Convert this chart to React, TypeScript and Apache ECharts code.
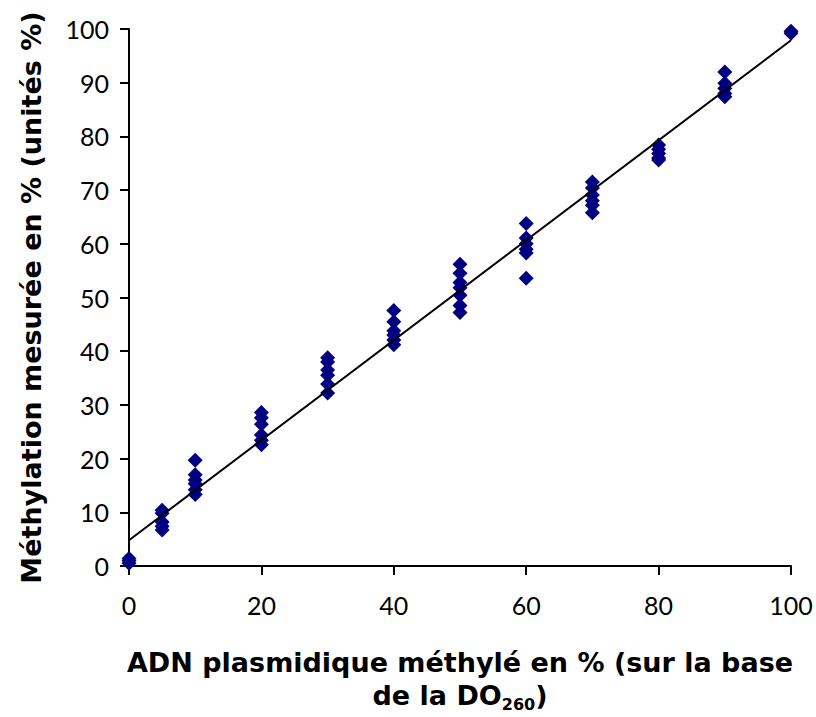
import React, { useEffect, useRef } from "react";
import * as echarts from "echarts";

const xLevels = [0, 5, 10, 20, 30, 40, 50, 60, 70, 80, 90, 100];
const measured: number[][] = [
  [0.5, 1.0, 1.4],
  [10.4, 9.8, 8.2, 7.4, 6.7],
  [19.7, 17.0, 16.0, 15.3, 14.2, 13.3],
  [28.6, 27.6, 26.4, 24.4, 23.4, 22.6],
  [38.8, 38.0, 36.5, 35.5, 33.9, 32.2],
  [47.6, 45.5, 43.8, 43.0, 42.1, 41.2],
  [56.2, 54.5, 52.8, 51.8, 50.4, 48.5, 47.2],
  [63.8, 61.1, 60.0, 59.0, 58.3, 53.6],
  [71.5, 70.4, 69.1, 68.0, 67.2, 65.8],
  [78.4, 77.6, 76.8, 76.0, 75.6],
  [92.0, 89.9, 88.9, 88.0, 87.4],
  [99.6, 99.2],
];
const trendX = [0, 100];
const trendY = [4.8, 97.9];
const yTicks = [0, 10, 20, 30, 40, 50, 60, 70, 80, 90, 100];
const xTicks = [0, 20, 40, 60, 80, 100];

export default function App() {
  const ref = useRef<HTMLDivElement>(null);
  useEffect(() => {
    if (!ref.current) return;
    const chart = echarts.init(ref.current, null, { renderer: "svg" });
    const points: number[][] = [];
    xLevels.forEach((x, i) => measured[i].forEach((y) => points.push([x, y])));
    const tickFont = "Lato, 'DejaVu Sans', sans-serif";
    const titleFont = "'DejaVu Sans', sans-serif";
    chart.setOption({
      animation: false,
      backgroundColor: "#ffffff",
      grid: {
        left: 129,
        right: 25,
        top: 29,
        bottom: 151,
        containLabel: false,
        outerBoundsMode: "none",
      },
      xAxis: {
        type: "value",
        min: 0,
        max: 100,
        interval: 20,
        splitLine: { show: false },
        axisLine: { lineStyle: { color: "#000", width: 2 } },
        axisTick: { show: true, length: 9, lineStyle: { color: "#000", width: 2 } },
        axisLabel: {
          color: "#000",
          fontSize: 25,
          fontFamily: tickFont,
          margin: 26,
          formatter: (v: number) => (xTicks.includes(v) ? String(v) : ""),
        },
        name: "ADN plasmidique méthylé en % (sur la base\n{n|de la DO}{s|260}{n|)}",
        nameLocation: "middle",
        nameGap: 80,
        nameTextStyle: {
          color: "#000",
          fontSize: 27,
          fontWeight: "bold",
          fontFamily: titleFont,
          lineHeight: 33,
          align: "center",
          rich: {
            n: { fontSize: 27, fontWeight: "bold", fontFamily: titleFont, color: "#000", lineHeight: 33 },
            s: { fontSize: 16, fontWeight: "bold", fontFamily: titleFont, color: "#000", verticalAlign: "bottom", padding: [8, 0, 0, 0], lineHeight: 33 },
          },
        },
      },
      yAxis: {
        type: "value",
        min: 0,
        max: 100,
        interval: 10,
        splitLine: { show: false },
        axisLine: { show: true, lineStyle: { color: "#000", width: 2 } },
        axisTick: { show: true, length: 9, lineStyle: { color: "#000", width: 2 } },
        axisLabel: {
          color: "#000",
          fontSize: 25,
          fontFamily: tickFont,
          margin: 20,
          formatter: (v: number) => (yTicks.includes(v) ? String(v) : ""),
        },
        name: "Méthylation mesurée en % (unités %)",
        nameLocation: "middle",
        nameGap: 84,
        nameRotate: 90,
        nameTextStyle: { color: "#000", fontSize: 27, fontWeight: "bold", fontFamily: titleFont },
      },
      series: [
        {
          type: "line",
          data: trendX.map((x, i) => [x, trendY[i]]),
          showSymbol: false,
          symbol: "none",
          lineStyle: { color: "#000", width: 2 },
          z: 3,
        },
        {
          type: "scatter",
          data: points,
          symbol: "diamond",
          symbolSize: 15,
          itemStyle: { color: "#000080", opacity: 1 },
          z: 2,
        },
      ],
    });
    return () => chart.dispose();
  }, []);
  return (
    <div
      ref={ref}
      style={{ position: "fixed", left: 0, top: 0, width: 816, height: 717 }}
    />
  );
}
